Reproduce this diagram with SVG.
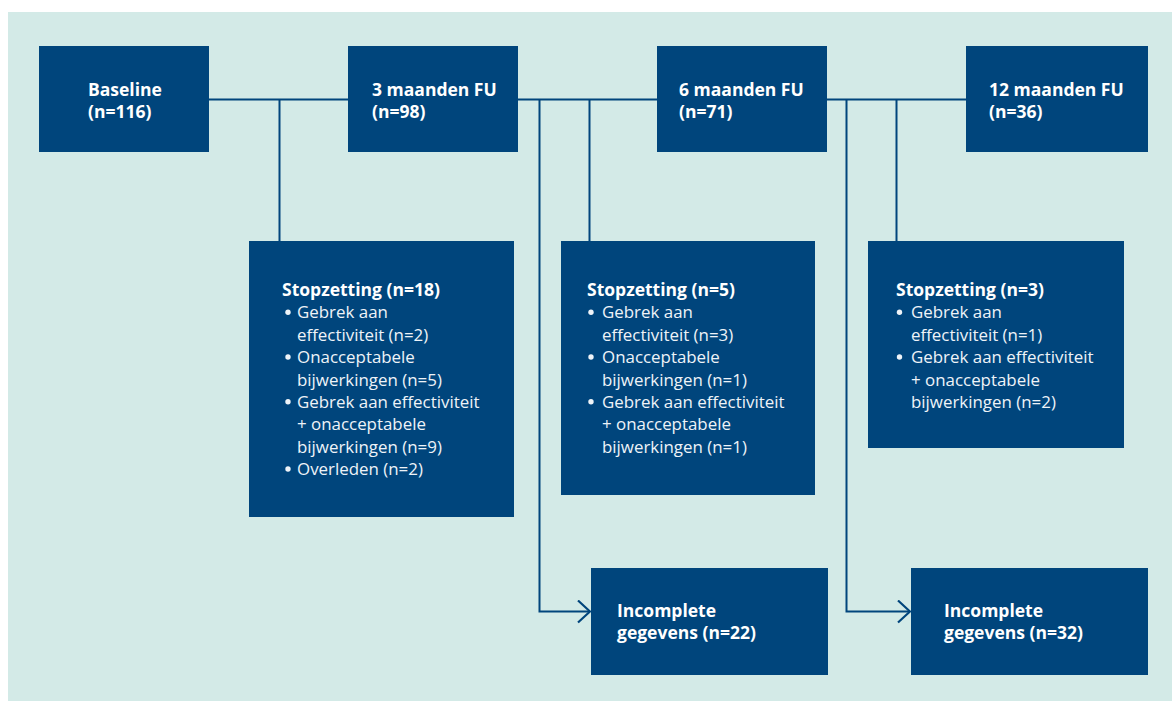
<svg xmlns="http://www.w3.org/2000/svg" width="1172" height="701" viewBox="0 0 1172 701">
<style>
.bg{fill:#d3eae7}
.box{fill:#00457c}
.b{font-family:"Open Sans","Noto Sans",sans-serif;font-weight:bold;font-size:17.5px;fill:#ffffff}
.r{font-family:"Open Sans","Noto Sans",sans-serif;font-weight:normal;font-size:16.9px;fill:#eef3f8}
.dot{fill:#eef3f8}
.ln{stroke:#00457c;stroke-width:2;fill:none}
</style>
<defs>
<marker id="arr" viewBox="0 0 14 24" refX="13" refY="12" markerWidth="14" markerHeight="24" markerUnits="userSpaceOnUse" orient="auto">
<path d="M1,1 L13,12 L1,23" fill="none" stroke="#00457c" stroke-width="2.2"/>
</marker>
</defs>
<rect class="bg" x="8" y="12" width="1164" height="689"/>
<g id="connectors">
<path class="ln" d="M209,99.5 H348"/>
<path class="ln" d="M518,99.5 H657"/>
<path class="ln" d="M827,99.5 H966"/>
<path class="ln" d="M279.5,99.5 V241"/>
<path class="ln" d="M589.5,99.5 V241"/>
<path class="ln" d="M896.5,99.5 V241"/>
<path class="ln" d="M539.5,99.5 V611.5 H590" marker-end="url(#arr)"/>
<path class="ln" d="M846.5,99.5 V611.5 H910" marker-end="url(#arr)"/>
</g>
<g id="baseline">
<rect class="box" x="39" y="46" width="170" height="106"/>
<text class="b" x="88" y="96">Baseline</text>
<text class="b" x="88" y="118">(n=116)</text>
</g>
<g id="fu3">
<rect class="box" x="348" y="46" width="170" height="106"/>
<text class="b" x="372" y="96">3 maanden FU</text>
<text class="b" x="372" y="118">(n=98)</text>
</g>
<g id="fu6">
<rect class="box" x="657" y="46" width="170" height="106"/>
<text class="b" x="679" y="96">6 maanden FU</text>
<text class="b" x="679" y="118">(n=71)</text>
</g>
<g id="fu12">
<rect class="box" x="966" y="46" width="182" height="106"/>
<text class="b" x="989" y="96">12 maanden FU</text>
<text class="b" x="989" y="118">(n=36)</text>
</g>
<g id="stop1">
<rect class="box" x="249" y="241" width="265" height="276"/>
<text class="b" x="282" y="296">Stopzetting (n=18)</text>
<circle class="dot" cx="288" cy="312.2" r="2.7"/>
<text class="r" x="297" y="318.4">Gebrek aan</text>
<text class="r" x="297" y="340.8">effectiviteit (n=2)</text>
<circle class="dot" cx="288" cy="357" r="2.7"/>
<text class="r" x="297" y="363.2">Onacceptabele</text>
<text class="r" x="297" y="385.6">bijwerkingen (n=5)</text>
<circle class="dot" cx="288" cy="401.8" r="2.7"/>
<text class="r" x="297" y="408">Gebrek aan effectiviteit</text>
<text class="r" x="297" y="430.4">+ onacceptabele</text>
<text class="r" x="297" y="452.8">bijwerkingen (n=9)</text>
<circle class="dot" cx="288" cy="469" r="2.7"/>
<text class="r" x="297" y="475.2">Overleden (n=2)</text>
</g>
<g id="stop2">
<rect class="box" x="561" y="241" width="254" height="254"/>
<text class="b" x="587" y="296">Stopzetting (n=5)</text>
<circle class="dot" cx="591" cy="312.2" r="2.7"/>
<text class="r" x="602" y="318.4">Gebrek aan</text>
<text class="r" x="602" y="340.8">effectiviteit (n=3)</text>
<circle class="dot" cx="591" cy="357" r="2.7"/>
<text class="r" x="602" y="363.2">Onacceptabele</text>
<text class="r" x="602" y="385.6">bijwerkingen (n=1)</text>
<circle class="dot" cx="591" cy="401.8" r="2.7"/>
<text class="r" x="602" y="408">Gebrek aan effectiviteit</text>
<text class="r" x="602" y="430.4">+ onacceptabele</text>
<text class="r" x="602" y="452.8">bijwerkingen (n=1)</text>
</g>
<g id="stop3">
<rect class="box" x="868" y="241" width="256" height="207"/>
<text class="b" x="896" y="296">Stopzetting (n=3)</text>
<circle class="dot" cx="899.5" cy="312.2" r="2.7"/>
<text class="r" x="911" y="318.4">Gebrek aan</text>
<text class="r" x="911" y="340.8">effectiviteit (n=1)</text>
<circle class="dot" cx="899.5" cy="357" r="2.7"/>
<text class="r" x="911" y="363.2">Gebrek aan effectiviteit</text>
<text class="r" x="911" y="385.6">+ onacceptabele</text>
<text class="r" x="911" y="408">bijwerkingen (n=2)</text>
</g>
<g id="incomplete1">
<rect class="box" x="591" y="568" width="237" height="107"/>
<text class="b" x="617" y="617">Incomplete</text>
<text class="b" x="617" y="639">gegevens (n=22)</text>
</g>
<g id="incomplete2">
<rect class="box" x="911" y="568" width="237" height="107"/>
<text class="b" x="944" y="617">Incomplete</text>
<text class="b" x="944" y="639">gegevens (n=32)</text>
</g>
</svg>
